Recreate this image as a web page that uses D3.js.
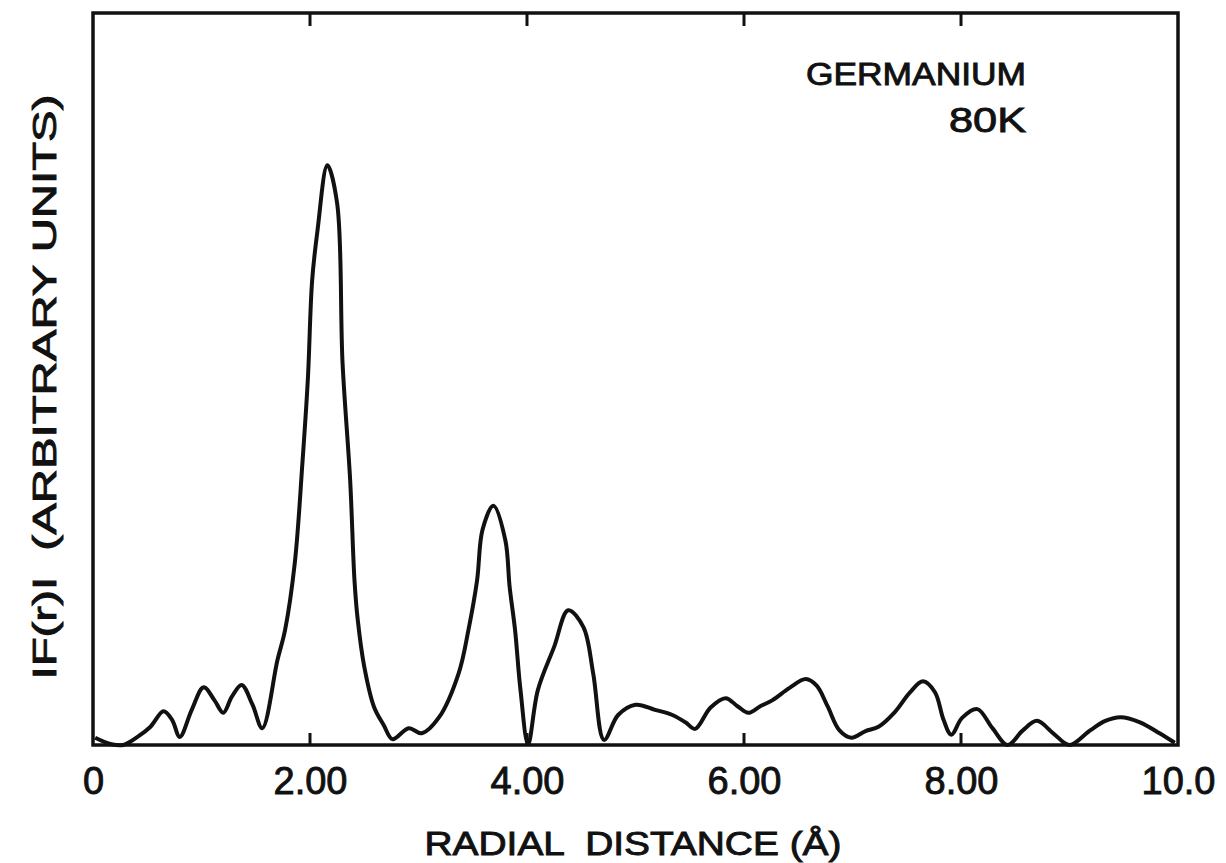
<!DOCTYPE html>
<html>
<head>
<meta charset="utf-8">
<script src="https://cdn.jsdelivr.net/npm/d3@7"></script>
<style>
  body { margin: 0; background: #fff; }
  text { font-family: "Liberation Sans", Arial, sans-serif; fill: #111; stroke: #111; stroke-width: 0.9px; white-space: pre; }
</style>
</head>
<body>
<div id="chart"></div>
<script>
// radial distance (Å)
var radius = [0.02, 0.17, 0.28, 0.41, 0.53, 0.65, 0.73, 0.80, 0.91, 1.02, 1.12, 1.20, 1.28, 1.37, 1.47, 1.56,
  1.70, 1.77, 1.86, 1.93, 1.98, 2.02, 2.07, 2.16, 2.25, 2.30, 2.37, 2.41, 2.44, 2.50, 2.59, 2.68, 2.76,
  2.91, 3.03, 3.19, 3.37, 3.46, 3.54, 3.59, 3.69, 3.80, 3.84, 3.89, 3.94, 4.01, 4.10, 4.25, 4.38, 4.52,
  4.61, 4.71, 4.84, 5.00, 5.18, 5.34, 5.46, 5.55, 5.69, 5.83, 5.94, 6.04, 6.15, 6.26, 6.42, 6.57, 6.67,
  6.77, 6.88, 6.99, 7.12, 7.24, 7.39, 7.53, 7.65, 7.76, 7.84, 7.91, 8.01, 8.15, 8.29, 8.43, 8.57, 8.70,
  8.85, 9.00, 9.19, 9.33, 9.47, 9.65, 9.83, 9.97];
// |F(r)| in arbitrary units (0..100 = full frame height)
var amplitude = [1.0, 0.1, 0.0, 1.1, 2.5, 4.6, 3.4, 1.1, 4.8, 7.9, 6.1, 4.4, 6.6, 8.2, 5.5, 2.3,
  11.6, 15.7, 24.9, 38.5, 49.9, 63.5, 70.4, 79.2, 74.0, 52.2, 36.2, 22.5, 17.1, 10.7, 5.2, 2.7, 0.8,
  2.3, 1.6, 3.8, 9.8, 15.7, 22.5, 29.4, 32.7, 28.0, 21.6, 15.7, 7.5, 0.1, 7.5, 13.4, 18.4, 16.1,
  9.8, 0.7, 4.1, 5.5, 4.8, 4.1, 3.1, 2.2, 5.1, 6.4, 5.3, 4.4, 5.3, 6.1, 7.8, 9.0, 8.1,
  5.3, 2.0, 1.0, 1.9, 2.5, 4.5, 7.2, 8.7, 7.2, 3.4, 1.4, 3.7, 4.9, 2.3, 0.0, 2.0, 3.3,
  1.6, 0.0, 2.0, 3.3, 3.8, 3.1, 1.6, 0.3];

var tickValues = [0, 2, 4, 6, 8, 10];
var tickLabels = ["0", "2.00", "4.00", "6.00", "8.00", "10.0"];
var innerTicks = [2, 4, 6, 8];

var width = 1226, height = 863;
var margin = {left: 93, right: 48, top: 13, bottom: 118};

var svg = d3.select("#chart").append("svg")
    .attr("width", width)
    .attr("height", height);

var x = d3.scaleLinear()
    .domain([0, 10])
    .range([margin.left, width - margin.right]);

var y = d3.scaleLinear()
    .domain([0, 100])
    .range([height - margin.bottom, margin.top]);

var points = radius.map(function(r, i) { return [r, amplitude[i]]; });

var line = d3.line()
    .x(function(d) { return x(d[0]); })
    .y(function(d) { return y(Math.max(0, d[1])); })
    .curve(d3.curveCatmullRom.alpha(0.5));

// frame
svg.append("rect")
    .attr("x", x(0))
    .attr("y", y(100))
    .attr("width", x(10) - x(0))
    .attr("height", y(0) - y(100))
    .style("fill", "none")
    .style("stroke", "#111")
    .style("stroke-width", "3.5px");

// bottom axis: labels below, ticks drawn inward separately
var xAxis = d3.axisBottom(x)
    .tickValues(tickValues)
    .tickSize(0)
    .tickPadding(22)
    .tickFormat(function(d, i) { return tickLabels[i]; });

var gx = svg.append("g")
    .attr("transform", "translate(0," + y(0) + ")")
    .call(xAxis);
gx.select(".domain").remove();
gx.selectAll("text")
    .style("font-size", "38px")
    .attr("dy", "0.71em");

svg.append("g")
    .selectAll("line")
    .data(innerTicks)
    .enter()
    .append("line")
      .attr("x1", function(d) { return x(d); })
      .attr("x2", function(d) { return x(d); })
      .attr("y1", y(0))
      .attr("y2", y(0) - 12)
      .style("stroke", "#111")
      .style("stroke-width", "3px");

svg.append("g")
    .selectAll("line")
    .data(innerTicks)
    .enter()
    .append("line")
      .attr("x1", function(d) { return x(d); })
      .attr("x2", function(d) { return x(d); })
      .attr("y1", y(100))
      .attr("y2", y(100) + 13)
      .style("stroke", "#111")
      .style("stroke-width", "3px");

// curve
svg.append("path")
    .datum(points)
    .attr("d", line)
    .style("fill", "none")
    .style("stroke", "#111")
    .style("stroke-width", "4px")
    .style("stroke-linejoin", "round");

// axis titles
svg.append("text")
    .attr("x", 633)
    .attr("y", 855)
    .attr("text-anchor", "middle")
    .attr("textLength", 417)
    .attr("lengthAdjust", "spacingAndGlyphs")
    .style("font-size", "33px")
    .text("RADIAL  DISTANCE (Å)");

svg.append("text")
    .attr("transform", "translate(56,387) rotate(-90)")
    .attr("text-anchor", "middle")
    .attr("textLength", 585)
    .attr("lengthAdjust", "spacingAndGlyphs")
    .style("font-size", "34px")
    .text("IF(r)I  (ARBITRARY UNITS)");

// sample label
svg.append("text")
    .attr("x", 1026)
    .attr("y", 85)
    .attr("text-anchor", "end")
    .attr("textLength", 220)
    .attr("lengthAdjust", "spacingAndGlyphs")
    .style("font-size", "31px")
    .text("GERMANIUM");

svg.append("text")
    .attr("x", 1026)
    .attr("y", 132)
    .attr("text-anchor", "end")
    .attr("textLength", 77)
    .attr("lengthAdjust", "spacingAndGlyphs")
    .style("font-size", "35px")
    .text("80K");
</script>
</body>
</html>
